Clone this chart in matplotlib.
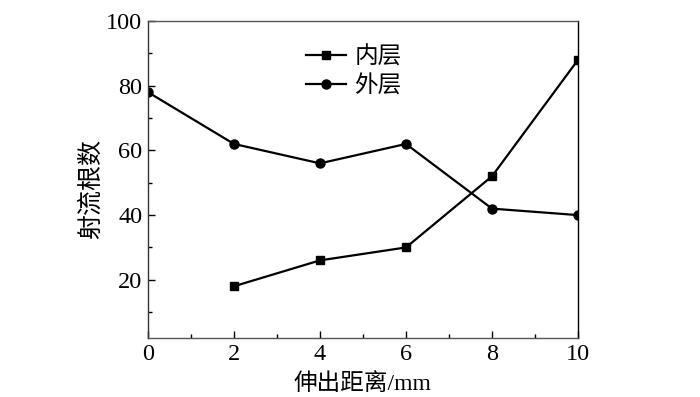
import matplotlib
matplotlib.use('Agg')
import matplotlib.pyplot as plt
from matplotlib.ticker import MultipleLocator

plt.rcParams['font.family'] = ['Liberation Serif', 'Noto Sans CJK SC']

# data
x_inner = [2, 4, 6, 8, 10]
y_inner = [18, 26, 30, 52, 88]
x_outer = [0, 2, 4, 6, 8, 10]
y_outer = [78, 62, 56, 62, 42, 40]

fig = plt.figure(figsize=(7.0, 3.97), dpi=100)
ax = fig.add_axes([0.2114, 0.1486, 0.6143, 0.7984])

ax.plot(x_inner, y_inner, color='black', lw=1.6, marker='s', ms=6, label='内层')
ax.plot(x_outer, y_outer, color='black', lw=1.6, marker='o', ms=6.5, label='外层')

ax.set_xlim(0, 10)
ax.set_ylim(2, 100)
ax.xaxis.set_major_locator(MultipleLocator(2))
ax.xaxis.set_minor_locator(MultipleLocator(1))
ax.yaxis.set_minor_locator(MultipleLocator(10))
ax.set_yticks([20, 40, 60, 80, 100])
ax.tick_params(which='both', direction='in', top=False, right=False,
               labelsize=17.5, width=1.0, pad=4)
ax.tick_params(which='major', length=5)
ax.tick_params(which='minor', length=3)
for s in ax.spines.values():
    s.set_linewidth(1.0)
ax.spines['top'].set_color('#555555')
ax.spines['bottom'].set_color('#555555')
ax.spines['left'].set_color('#333333')

ax.set_xlabel('伸出距离/mm', fontsize=17, labelpad=6)
ax.set_ylabel('射流根数', fontsize=18)
ax.yaxis.set_label_coords(-0.105, 0.47)

ax.legend(loc='upper left', bbox_to_anchor=(0.345, 0.95), frameon=False,
          fontsize=17, handlelength=1.7, handletextpad=0.35, labelspacing=0.3,
          borderaxespad=0)

fig.savefig('out.png', dpi=100)
